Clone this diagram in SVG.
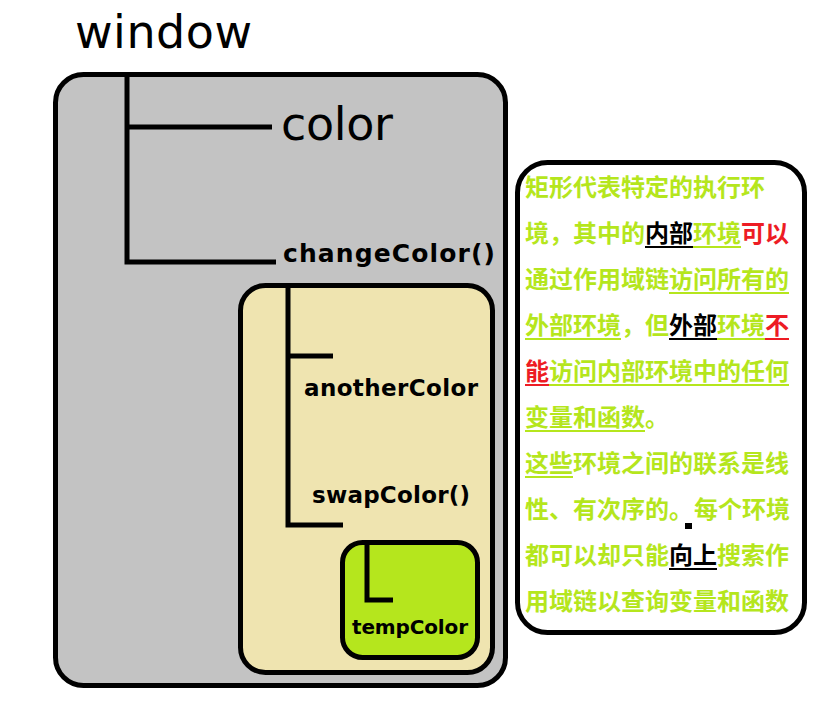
<svg xmlns="http://www.w3.org/2000/svg" width="833" height="715" viewBox="0 0 833 715">
<style>
.box{stroke:#000;stroke-width:5}
.ln{stroke:#000;stroke-width:5;fill:none}
.big{font-family:"DejaVu Sans",sans-serif;font-size:46px;fill:#000}
.lbl{font-family:"DejaVu Sans",sans-serif;font-weight:bold;fill:#000}
.cn{font-family:"Noto Sans CJK SC",sans-serif;font-weight:bold;font-size:24px;fill:#b5e61d}
.k{fill:#000}
.r{fill:#ed1c24}
.ug{fill:#b5e61d}
.uk{fill:#000}
.ur{fill:#ed1c24}
</style>
<rect width="833" height="715" fill="#fff"/>
<text class="big" x="75" y="48" textLength="177">window</text>
<g id="window">
<rect class="box" x="55.5" y="74.5" width="450" height="611" rx="28" fill="#c3c3c3"/>
<text class="big" x="281" y="140" textLength="112">color</text>
<text class="lbl" x="283" y="262" font-size="25" textLength="212">changeColor()</text>
</g>
<g id="changeColor">
<rect class="box" x="240.5" y="285.5" width="252" height="387" rx="25" fill="#efe4b0"/>
<text class="lbl" x="304" y="396" font-size="23" textLength="174">anotherColor</text>
<text class="lbl" x="312" y="503" font-size="23" textLength="158">swapColor()</text>
</g>
<g id="swapColor">
<rect class="box" x="342.5" y="542.5" width="135" height="115" rx="20" fill="#b5e61d"/>
<text class="lbl" x="352" y="634" font-size="20" textLength="116">tempColor</text>
</g>
<g id="connectors">
<path class="ln" d="M127 74V264.5M127 127H272M125 262H276"/>
<path class="ln" d="M288 285V527.5M288 356H333M286 525H343"/>
<path class="ln" d="M367 542V602.5M365 600H393"/>
</g>
<g id="note">
<rect class="box" x="517.5" y="162.5" width="287" height="470" rx="30" fill="#fff"/>
<text class="cn" x="525" y="196">矩形代表特定的执行环</text>
<text class="cn" x="525" y="242">境，其中的<tspan class="k">内部</tspan>环境<tspan class="r">可以</tspan></text>
<text class="cn" x="525" y="288">通过作用域链访问所有的</text>
<text class="cn" x="525" y="334">外部环境，但<tspan class="k">外部</tspan>环境<tspan class="r">不</tspan></text>
<text class="cn" x="525" y="380"><tspan class="r">能</tspan>访问内部环境中的任何</text>
<text class="cn" x="525" y="426">变量和函数。</text>
<text class="cn" x="525" y="472">这些环境之间的联系是线</text>
<text class="cn" x="525" y="518">性、有次序的。<tspan x="694">每个环境</tspan></text>
<text class="cn" x="525" y="564">都可以却只能<tspan class="k">向上</tspan>搜索作</text>
<text class="cn" x="525" y="610">用域链以查询变量和函数</text>
<rect x="685" y="523" width="7" height="6" fill="#000"/>
<rect class="uk" x="645" y="246" width="48" height="2"/>
<rect class="ug" x="693" y="246" width="48" height="2"/>
<rect class="ug" x="669" y="292" width="120" height="2"/>
<rect class="ug" x="525" y="338" width="96" height="2"/>
<rect class="uk" x="669" y="338" width="48" height="2"/>
<rect class="ug" x="717" y="338" width="48" height="2"/>
<rect class="ur" x="765" y="338" width="24" height="2"/>
<rect class="ur" x="525" y="384" width="24" height="2"/>
<rect class="ug" x="549" y="384" width="240" height="2"/>
<rect class="ug" x="525" y="430" width="120" height="2"/>
<rect class="ug" x="525" y="476" width="48" height="2"/>
<rect class="uk" x="669" y="568" width="48" height="2"/>
</g>
</svg>
